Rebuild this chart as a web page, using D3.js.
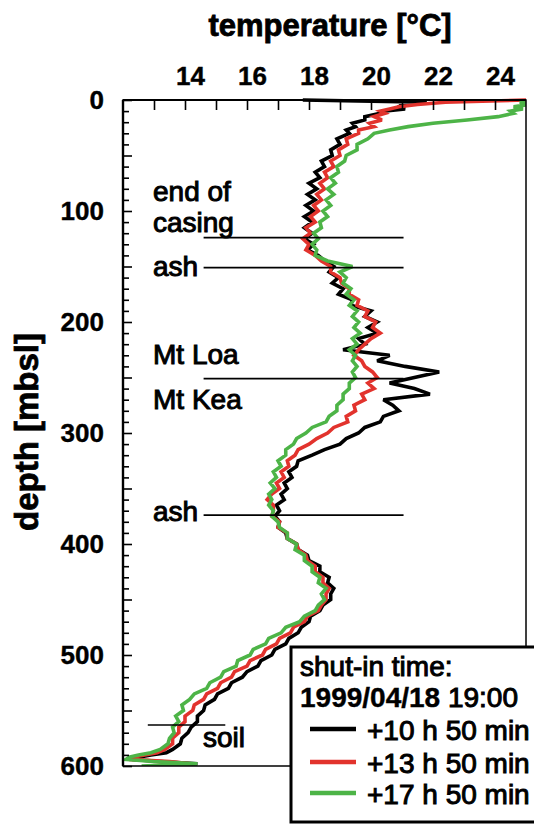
<!DOCTYPE html>
<html><head><meta charset="utf-8">
<script src="https://cdn.jsdelivr.net/npm/d3@7"></script>
<style>body{margin:0;background:#fff}svg{display:block}text{font-family:"Liberation Sans",Arial,sans-serif;fill:#000}</style>
</head><body>
<svg id="c" width="534" height="825"></svg>
<script>
// ---- data ----
const depth = [0,2,4,6,8,10,12,15,18,21,24,27,30,35,40,45,50,55,60,65,70,75,80,85,90,95,100,105,110,115,120,125,130,135,140,145,150,155,160,165,170,175,180,185,190,195,200,205,210,215,220,225,230,235,240,245,250,255,260,265,270,275,280,285,290,295,300,305,310,315,320,325,330,335,340,345,350,355,360,365,370,375,380,385,390,395,400,405,410,415,420,425,430,435,440,445,450,455,460,465,470,475,480,485,490,495,500,505,510,515,520,525,530,535,540,545,550,555,560,565,570,575,580,585,588,590,592,594,596,598,600];
const temp10h50 = [17.8,21.8,21.0,20.9,21.1,20.4,20.3,19.8,19.8,19.4,19.5,19.2,19.3,18.9,19.0,18.7,18.75,18.4,18.5,18.2,18.35,18.0,18.25,17.95,18.2,17.9,18.15,17.85,18.1,17.85,18.1,17.85,18.15,17.95,18.3,18.5,18.8,18.65,18.95,18.75,19.1,18.95,19.4,19.35,20.0,19.8,20.2,19.9,20.2,19.6,19.8,19.1,20.6,20.2,21.1,22.2,21.4,20.6,21.4,21.9,20.4,20.7,20.9,20.4,20.3,19.8,19.6,19.2,19.0,18.5,18.1,17.65,17.6,17.35,17.45,17.2,17.3,17.1,17.2,16.95,17.05,16.9,17.05,17.0,17.25,17.3,17.6,17.65,17.95,18.0,18.35,18.35,18.65,18.6,18.8,18.7,18.7,18.45,18.35,18.05,18.0,17.75,17.65,17.35,17.25,16.9,16.8,16.45,16.35,16.0,15.85,15.5,15.4,15.05,14.95,14.65,14.6,14.4,14.4,14.2,14.1,13.9,13.85,13.6,13.4,12.9,12.5,12.3,13.2,14.4,13.0];
const temp13h50 = [25.0,22.4,21.5,20.9,20.6,20.3,20.45,20.1,20.35,19.95,20.1,19.6,19.6,19.2,19.25,18.95,19.0,18.7,18.8,18.5,18.6,18.35,18.5,18.25,18.4,18.15,18.3,18.05,18.2,17.9,18.05,17.8,18.0,17.9,18.2,18.4,18.7,18.7,19.0,19.05,19.3,19.3,19.6,19.55,19.9,19.8,20.15,20.05,20.3,20.0,19.8,19.6,19.45,19.7,19.8,20.05,20.2,19.9,20.1,19.7,19.8,19.45,19.5,19.2,19.25,18.8,18.6,18.25,18.0,17.65,17.55,17.3,17.35,17.1,17.2,16.95,17.05,16.8,16.65,16.85,16.85,16.8,17.05,17.0,17.3,17.3,17.6,17.65,17.9,17.95,18.2,18.2,18.45,18.45,18.65,18.55,18.55,18.4,18.3,17.95,17.85,17.5,17.4,17.05,16.95,16.6,16.5,16.1,16.0,15.6,15.5,15.15,15.05,14.7,14.6,14.3,14.25,14.0,14.0,13.8,13.8,13.6,13.6,13.35,13.1,12.7,12.3,12.2,13.5,14.2,12.8];
const temp17h50 = [25.2,24.8,25.1,24.6,24.9,24.5,24.6,24.1,23.1,22.0,21.2,20.6,20.1,19.9,19.55,19.55,19.2,19.15,18.9,18.95,18.7,18.85,18.6,18.8,18.55,18.7,18.45,18.6,18.35,18.4,18.15,18.3,18.1,18.25,18.2,18.6,19.4,19.0,19.2,19.1,19.35,19.2,19.45,19.3,19.55,19.4,19.6,19.45,19.65,19.4,19.55,19.3,19.5,19.4,19.55,19.4,19.5,19.3,19.3,19.1,19.1,18.9,18.9,18.65,18.55,18.1,17.9,17.6,17.5,17.25,17.25,17.0,17.1,16.85,16.95,16.75,16.9,16.7,16.8,16.7,16.85,16.8,17.0,17.05,17.3,17.3,17.6,17.55,17.85,17.85,18.1,18.1,18.35,18.3,18.55,18.4,18.5,18.3,18.2,17.85,17.7,17.25,17.1,16.7,16.6,16.2,16.1,15.7,15.65,15.25,15.15,14.8,14.7,14.3,14.15,13.9,13.95,13.7,13.8,13.6,13.65,13.5,13.45,13.2,12.9,12.5,12.2,12.1,13.0,14.4,12.6];
const seriesNames = ["+10 h 50 min","+13 h 50 min","+17 h 50 min"];
const seriesColors = ["#000000","#e2332d","#4db447"];
const tempTicks = [14,16,18,20,22,24];
const depthTicks = [0,100,200,300,400,500,600];
const markerDepths = [124,151,251,374];
const markerRange = [14.6,21.05];
const soilDepth = 563, soilRange = [12.8,15.3];

// ---- chart ----
const svg = d3.select("#c");
const x = d3.scaleLinear().domain([12,25]).range([123,526]);
const y = d3.scaleLinear().domain([0,600]).range([100,766]);

svg.append("clipPath").attr("id","pc").append("rect")
  .attr("x",x(12)).attr("y",y(0)-2).attr("width",x(25)-x(12)).attr("height",y(600)-y(0)+2);

const line = d3.line().x(d=>x(d[1])).y(d=>y(d[0]));
const all = [temp10h50,temp13h50,temp17h50];
const g = svg.append("g").attr("clip-path","url(#pc)");
all.forEach((s,i)=>{
  g.append("path").datum(depth.map((d,j)=>[d,s[j]]))
    .attr("d",line).attr("fill","none").attr("stroke",seriesColors[i])
    .attr("stroke-width",3.6).attr("stroke-linejoin","miter").attr("stroke-miterlimit",3);
});

// frame
svg.append("rect").attr("x",x(12)).attr("y",y(0)).attr("width",x(25)-x(12)).attr("height",y(600)-y(0))
  .attr("fill","none").attr("stroke","#000").attr("stroke-width",1.5);
svg.append("line").attr("x1",x(12)).attr("x2",x(12)).attr("y1",y(0)).attr("y2",y(600)).attr("stroke","#000").attr("stroke-width",2.4);
svg.append("line").attr("x1",x(12)).attr("x2",x(25)).attr("y1",y(0)).attr("y2",y(0)).attr("stroke","#000").attr("stroke-width",2.2);

// top axis
const ax = svg.append("g").attr("transform",`translate(0,${y(0)})`)
  .call(d3.axisTop(x).tickValues(d3.range(13,25)).tickSize(-10).tickPadding(15)
    .tickFormat(v=>tempTicks.includes(v)?v:""));
ax.select(".domain").remove();
ax.selectAll("line").attr("stroke","#000").attr("stroke-width",1.6);
ax.selectAll("text").attr("font-size",26).attr("font-weight","bold").attr("fill","#000")
  .attr("stroke","#000").attr("stroke-width",0.4)
  .attr("font-family","Liberation Sans, Arial, sans-serif").attr("dx",5);

// left axis
const ay = svg.append("g").attr("transform",`translate(${x(12)},0)`)
  .call(d3.axisLeft(y).tickValues(d3.range(0,601,10)).tickSize(-6).tickPadding(19)
    .tickFormat(v=>depthTicks.includes(v)?v:""));
ay.select(".domain").remove();
ay.selectAll("line").attr("stroke","#000").attr("stroke-width",1.6)
  .attr("x2",v=>v%50===0?9:6);
ay.selectAll("text").attr("font-size",26).attr("font-weight","bold").attr("fill","#000")
  .attr("stroke","#000").attr("stroke-width",0.4)
  .attr("font-family","Liberation Sans, Arial, sans-serif");

// axis titles
svg.append("text").attr("x",330).attr("y",36).attr("text-anchor","middle")
  .attr("stroke","#000").attr("stroke-width",0.8)
  .attr("font-size",31).attr("font-weight","bold").text("temperature [°C]");
svg.append("text").attr("transform","translate(38,432) rotate(-90)").attr("text-anchor","middle")
  .attr("stroke","#000").attr("stroke-width",0.8)
  .attr("font-size",33).attr("font-weight","bold").text("depth [mbsl]");

// marker lines
markerDepths.forEach(d=>{
  svg.append("line").attr("x1",x(markerRange[0])).attr("x2",x(markerRange[1]))
    .attr("y1",y(d)).attr("y2",y(d)).attr("stroke","#000").attr("stroke-width",1.6);
});
svg.append("line").attr("x1",x(soilRange[0])).attr("x2",x(soilRange[1]))
  .attr("y1",y(soilDepth)).attr("y2",y(soilDepth)).attr("stroke","#000").attr("stroke-width",1.6);

function lab(t,xx,yy,size,bold){
  return svg.append("text").attr("x",xx).attr("y",yy).attr("font-size",size||28)
    .attr("font-weight",bold?"bold":"normal")
    .attr("stroke","#000").attr("stroke-width",bold?0.4:1.0).text(t);
}
lab("end of",153,201);
lab("casing",153,232);
lab("ash",153,276);
lab("Mt Loa",153,364);
lab("Mt Kea",153,409);
lab("ash",153,521);
lab("soil",203,747);

// legend
svg.append("rect").attr("x",291).attr("y",647).attr("width",260).attr("height",175)
  .attr("fill","#fff").attr("stroke","#000").attr("stroke-width",3);
lab("shut-in time:",300,676);
const dt = svg.append("text").attr("x",300).attr("y",707).attr("font-size",28);
dt.append("tspan").attr("font-weight","bold").attr("stroke","#000").attr("stroke-width",0.4).text("1999/04/18");
dt.append("tspan").attr("stroke","#000").attr("stroke-width",1.0).text(" 19:00");
const ly = [729,762,793];
seriesNames.forEach((n,i)=>{
  svg.append("line").attr("x1",310).attr("x2",356).attr("y1",ly[i]).attr("y2",ly[i])
    .attr("stroke",seriesColors[i]).attr("stroke-width",4.5);
  lab(n,367,ly[i]+11);
});
</script>
</body></html>
